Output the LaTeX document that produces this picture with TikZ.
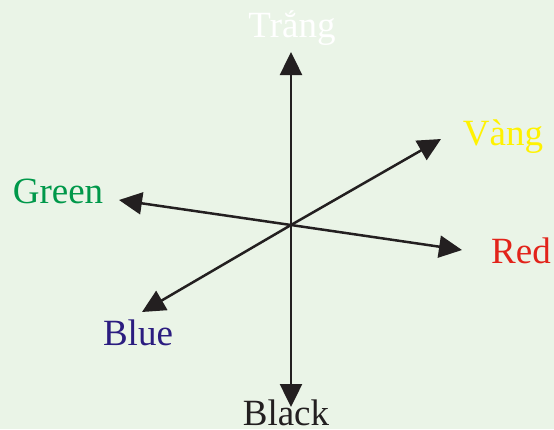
\documentclass[tikz,border=0pt]{standalone}
\usepackage{fontspec}
\setmainfont{Liberation Serif}
\usetikzlibrary{arrows.meta}

\definecolor{bgcol}{HTML}{EAF4E7}
\definecolor{inkcol}{HTML}{231F20}
\definecolor{greencol}{HTML}{00984A}
\definecolor{redcol}{HTML}{E2231A}
\definecolor{bluecol}{HTML}{2B1C80}
\definecolor{yellowcol}{HTML}{FFF200}

\tikzset{
  axis/.style={draw=inkcol, line width=2.5pt, -{Triangle[length=23pt,width=22pt]}},
  lab/.style={anchor=base, inner sep=0pt, font=\fontsize{37}{37}\selectfont}
}

\begin{document}
\begin{tikzpicture}[x=1pt, y=-1pt]
  \fill[bgcol] (0,0) rectangle (554,429);
  \useasboundingbox (0,0) rectangle (554,429);

  \coordinate (O) at (291,225);
  \coordinate (T) at (291,52);
  \coordinate (K) at (291,407);
  \coordinate (V) at (441,139);
  \coordinate (G) at (119,200);
  \coordinate (R) at (462,250);
  \coordinate (B) at (142,312);

  \node[lab, white] (trang) at (292,37) {Trắng};
  \node[lab, yellowcol] (vang) at (503,145) {Vàng};
  \node[lab, greencol] (green) at (58,203) {Green};
  \node[lab, redcol] (red) at (521,263) {Red};
  \node[lab, bluecol] (blue) at (138,345) {Blue};
  \node[lab, inkcol] (black) at (286,425) {Black};

  \draw[axis] (O) -- (T);
  \draw[axis] (O) -- (K);
  \draw[axis] (O) -- (V);
  \draw[axis] (O) -- (G);
  \draw[axis] (O) -- (R);
  \draw[axis] (O) -- (B);
\end{tikzpicture}
\end{document}
